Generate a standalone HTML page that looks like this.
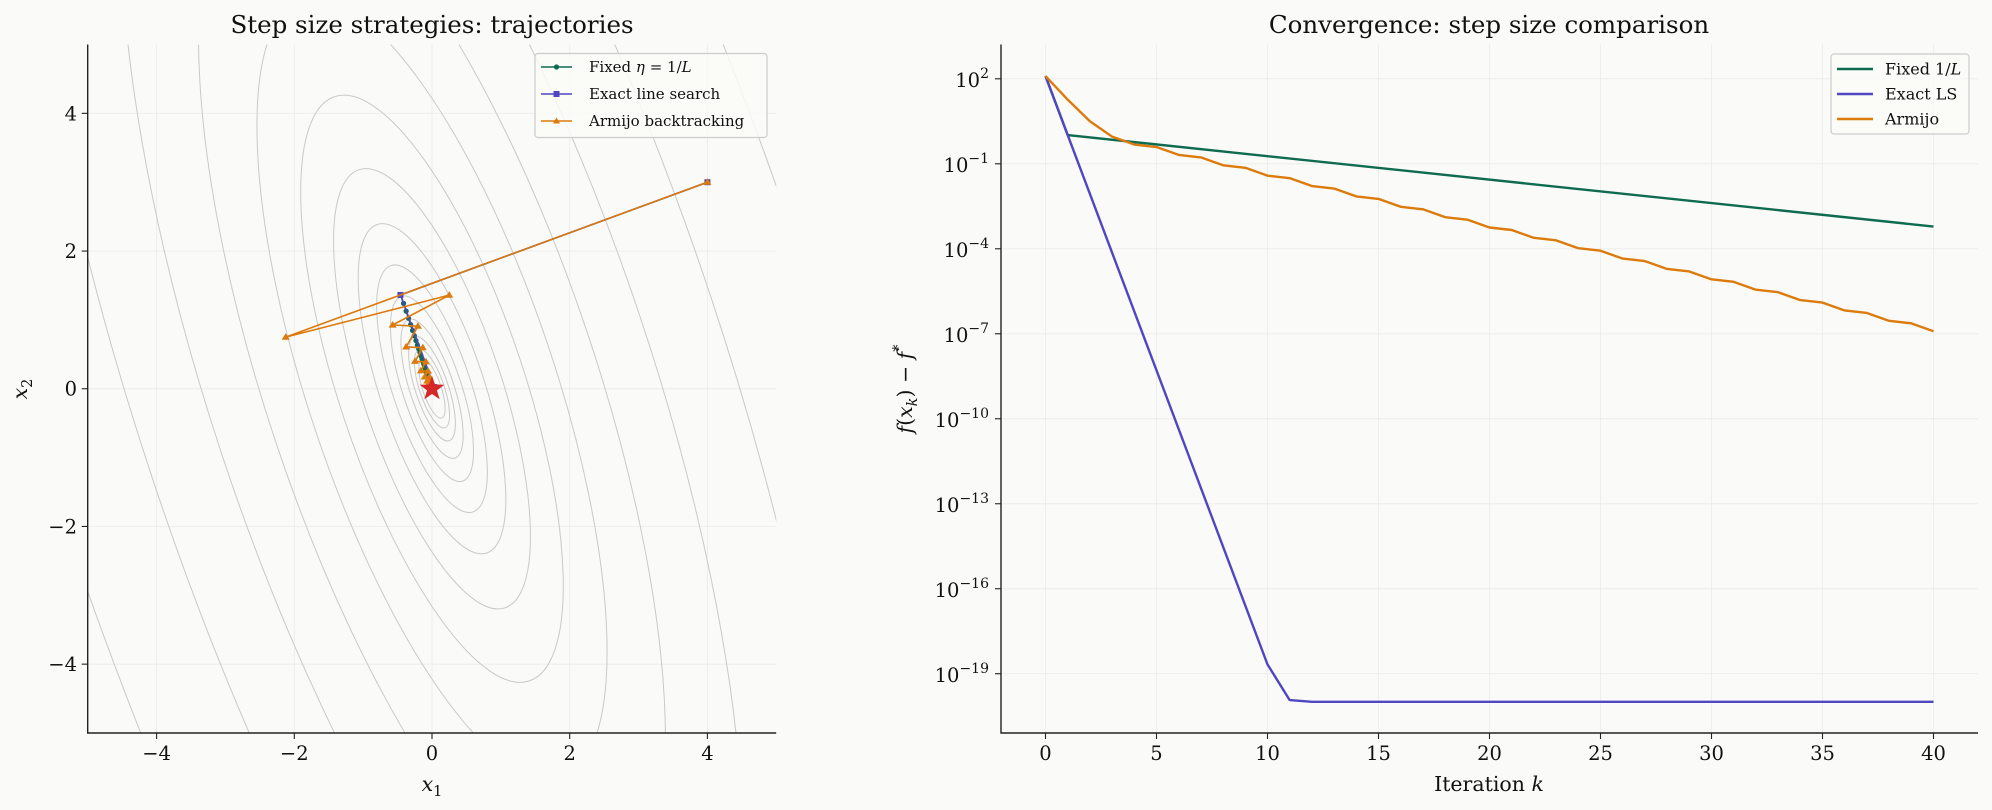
<!DOCTYPE html>
<html><head><meta charset="utf-8">
<style>
html,body{margin:0;padding:0;background:#fafaf8;width:1992px;height:810px;overflow:hidden;}
svg{display:block;font-family:"DejaVu Serif","Liberation Serif",serif;}
</style></head>
<body>
<svg width="1992" height="810" viewBox="0 0 1992 810" xmlns="http://www.w3.org/2000/svg">
<rect width="1992" height="810" fill="#fafaf8"/>
<defs>
<clipPath id="cl"><rect x="87.7" y="44.5" width="688.5" height="688.5"/></clipPath>
<clipPath id="cr"><rect x="1001" y="44.5" width="977" height="688.5"/></clipPath>
<marker id="mc" markerUnits="userSpaceOnUse" markerWidth="8" markerHeight="8" refX="4" refY="4" overflow="visible"><circle cx="4" cy="4" r="2.6" fill="#0e6b50"/></marker>
<marker id="ms" markerUnits="userSpaceOnUse" markerWidth="8" markerHeight="8" refX="4" refY="4" overflow="visible"><rect x="1" y="1" width="6" height="6" fill="#5046c0"/></marker>
<marker id="mt" markerUnits="userSpaceOnUse" markerWidth="10" markerHeight="10" refX="5" refY="5" overflow="visible"><path d="M5,1L9,7.6H1Z" fill="#dd7a0c"/></marker>
</defs>
<g stroke="#ececea" stroke-width="0.9">
<line x1="156.6" y1="44.5" x2="156.6" y2="733"/><line x1="294.3" y1="44.5" x2="294.3" y2="733"/><line x1="432" y1="44.5" x2="432" y2="733"/><line x1="569.7" y1="44.5" x2="569.7" y2="733"/><line x1="707.4" y1="44.5" x2="707.4" y2="733"/>
<line x1="87.7" y1="113.35" x2="776.2" y2="113.35"/><line x1="87.7" y1="251.05" x2="776.2" y2="251.05"/><line x1="87.7" y1="388.75" x2="776.2" y2="388.75"/><line x1="87.7" y1="526.45" x2="776.2" y2="526.45"/><line x1="87.7" y1="664.15" x2="776.2" y2="664.15"/>
<line x1="1045.5" y1="44.5" x2="1045.5" y2="733"/><line x1="1156.5" y1="44.5" x2="1156.5" y2="733"/><line x1="1267.5" y1="44.5" x2="1267.5" y2="733"/><line x1="1378.5" y1="44.5" x2="1378.5" y2="733"/><line x1="1489.5" y1="44.5" x2="1489.5" y2="733"/><line x1="1600.5" y1="44.5" x2="1600.5" y2="733"/><line x1="1711.5" y1="44.5" x2="1711.5" y2="733"/><line x1="1822.5" y1="44.5" x2="1822.5" y2="733"/><line x1="1933.5" y1="44.5" x2="1933.5" y2="733"/>
<line x1="1001" y1="78.8" x2="1978" y2="78.8"/><line x1="1001" y1="163.79" x2="1978" y2="163.79"/><line x1="1001" y1="248.78" x2="1978" y2="248.78"/><line x1="1001" y1="333.77" x2="1978" y2="333.77"/><line x1="1001" y1="418.76" x2="1978" y2="418.76"/><line x1="1001" y1="503.75" x2="1978" y2="503.75"/><line x1="1001" y1="588.74" x2="1978" y2="588.74"/><line x1="1001" y1="673.73" x2="1978" y2="673.73"/>
</g>
<g clip-path="url(#cl)" fill="none" stroke="#c9c9c7" stroke-width="1">
<g transform="rotate(71.57 432 388.75)">
<ellipse cx="432" cy="388.75" rx="30.79" ry="9.28"/>
<ellipse cx="432" cy="388.75" rx="41.06" ry="12.38"/>
<ellipse cx="432" cy="388.75" rx="54.75" ry="16.51"/>
<ellipse cx="432" cy="388.75" rx="73.02" ry="22.01"/>
<ellipse cx="432" cy="388.75" rx="97.37" ry="29.36"/>
<ellipse cx="432" cy="388.75" rx="129.84" ry="39.15"/>
<ellipse cx="432" cy="388.75" rx="173.15" ry="52.21"/>
<ellipse cx="432" cy="388.75" rx="230.9" ry="69.62"/>
<ellipse cx="432" cy="388.75" rx="307.91" ry="92.83"/>
<ellipse cx="432" cy="388.75" rx="410.6" ry="123.8"/>
<ellipse cx="432" cy="388.75" rx="547.54" ry="165.09"/>
<ellipse cx="432" cy="388.75" rx="730.17" ry="220.16"/>
<ellipse cx="432" cy="388.75" rx="973.7" ry="293.6"/>
<ellipse cx="432" cy="388.75" rx="1298.4" ry="391.5"/>
<ellipse cx="432" cy="388.75" rx="1731.5" ry="522.1"/>
</g>
</g>
<g clip-path="url(#cl)" fill="none" stroke-width="1.6" stroke-linejoin="round">
<path stroke="#0e6b50" marker-start="url(#mc)" marker-mid="url(#mc)" marker-end="url(#mc)" d="M707.4,182.2L400.7,294.86L403.55,303.4L406.14,311.15L408.49,318.21L410.63,324.62L412.57,330.45L414.33,335.75L415.94,340.57L417.4,344.95L418.73,348.94L419.93,352.55L421.03,355.85L422.03,358.83L422.94,361.56L423.76,364.03L424.51,366.28L425.19,368.32L425.81,370.17L426.37,371.86L426.88,373.4L427.35,374.8L427.77,376.07L428.15,377.21L428.51,378.27L428.82,379.22L429.11,380.08L429.6,381.5L430.2,383.3L430.8,385"/>
<path stroke="#5046c0" marker-start="url(#ms)" marker-mid="url(#ms)" marker-end="url(#ms)" d="M707.4,182.2L400.45,294.96L434.27,387.04L432,388.75"/>
<path stroke="#dd7a0c" marker-start="url(#mt)" marker-mid="url(#mt)" marker-end="url(#mt)" d="M707.4,182.2L285.69,337.11L449.21,295.16L392.6,325.01L417.95,326.17L406.14,346.92L422.78,347.68L415.04,361.31L425.95,361.81L420.87,370.75L428.03,371.08L424.7,376.94L429.4,377.16L427.21,381L430.29,381.14L428.85,383.66L430.88,383.76L429.93,385.41L431.26,385.47L430.64,386.56L431.52,386.6"/>
<path fill="#d62728" stroke="none" d="M432,375.75L435.06,384.54L444.36,384.73L436.95,390.36L439.64,399.27L432,393.95L424.36,399.27L427.05,390.36L419.64,384.73L428.94,384.54Z"/>
</g>
<g clip-path="url(#cr)" fill="none" stroke-width="2.4" stroke-linejoin="round">
<path stroke="#0e6b50" d="M1045.5,76.05L1067.7,135.06L1933.5,226.54"/>
<path stroke="#5046c0" d="M1045.5,76.05L1067.7,135.06L1267.5,664.4L1289.7,700.1L1311.9,701.8L1933.5,701.8"/>
<path stroke="#dd7a0c" d="M1045.5,76.05L1067.7,99.65L1089.9,121.24L1112.1,136.68L1134.3,144.55L1156.5,147.05L1178.7,154.92L1200.9,157.42L1223.1,165.29L1245.3,167.79L1267.5,175.66L1289.7,178.16L1311.9,186.03L1334.1,188.53L1356.3,196.4L1378.5,198.9L1400.7,206.77L1422.9,209.26L1445.1,217.13L1467.3,219.63L1489.5,227.5L1511.7,230L1533.9,237.87L1556.1,240.37L1578.3,248.24L1600.5,250.74L1622.7,258.61L1644.9,261.11L1667.1,268.98L1689.3,271.48L1711.5,279.35L1733.7,281.85L1755.9,289.72L1778.1,292.22L1800.3,300.09L1822.5,302.59L1844.7,310.46L1866.9,312.96L1889.1,320.83L1911.3,323.33L1933.5,331.2"/>
</g>
<g stroke="#222" stroke-width="1.1">
<line x1="156.6" y1="733" x2="156.6" y2="739"/><line x1="294.3" y1="733" x2="294.3" y2="739"/><line x1="432" y1="733" x2="432" y2="739"/><line x1="569.7" y1="733" x2="569.7" y2="739"/><line x1="707.4" y1="733" x2="707.4" y2="739"/>
<line x1="81.7" y1="113.35" x2="87.7" y2="113.35"/><line x1="81.7" y1="251.05" x2="87.7" y2="251.05"/><line x1="81.7" y1="388.75" x2="87.7" y2="388.75"/><line x1="81.7" y1="526.45" x2="87.7" y2="526.45"/><line x1="81.7" y1="664.15" x2="87.7" y2="664.15"/>
<line x1="1045.5" y1="733" x2="1045.5" y2="739"/><line x1="1156.5" y1="733" x2="1156.5" y2="739"/><line x1="1267.5" y1="733" x2="1267.5" y2="739"/><line x1="1378.5" y1="733" x2="1378.5" y2="739"/><line x1="1489.5" y1="733" x2="1489.5" y2="739"/><line x1="1600.5" y1="733" x2="1600.5" y2="739"/><line x1="1711.5" y1="733" x2="1711.5" y2="739"/><line x1="1822.5" y1="733" x2="1822.5" y2="739"/><line x1="1933.5" y1="733" x2="1933.5" y2="739"/>
<line x1="995" y1="78.8" x2="1001" y2="78.8"/><line x1="995" y1="163.79" x2="1001" y2="163.79"/><line x1="995" y1="248.78" x2="1001" y2="248.78"/><line x1="995" y1="333.77" x2="1001" y2="333.77"/><line x1="995" y1="418.76" x2="1001" y2="418.76"/><line x1="995" y1="503.75" x2="1001" y2="503.75"/><line x1="995" y1="588.74" x2="1001" y2="588.74"/><line x1="995" y1="673.73" x2="1001" y2="673.73"/>
</g>
<g stroke="#222" stroke-width="1.4" fill="none">
<path d="M87.7,44.5V733H776.2"/>
<path d="M1001,44.5V733H1978"/>
</g>
<text x="432" y="33" font-size="24.5" text-anchor="middle" fill="#111">Step size strategies: trajectories</text>
<text x="1489" y="33" font-size="24.5" text-anchor="middle" fill="#111">Convergence: step size comparison</text>
<g font-size="19.5" fill="#111" text-anchor="middle">
<text x="156.6" y="760">−4</text><text x="294.3" y="760">−2</text><text x="432" y="760">0</text><text x="569.7" y="760">2</text><text x="707.4" y="760">4</text>
</g>
<g font-size="19.5" fill="#111" text-anchor="end">
<text x="77" y="120.3">4</text><text x="77" y="258">2</text><text x="77" y="395.7">0</text><text x="77" y="533.4">−2</text><text x="77" y="671.1">−4</text>
</g>
<text x="432" y="791" font-size="20.5" text-anchor="middle" font-style="italic" fill="#111">x<tspan font-size="14.5" dy="5" font-style="normal">1</tspan></text>
<text transform="translate(27,389) rotate(-90)" font-size="20.5" text-anchor="middle" font-style="italic" fill="#111">x<tspan font-size="14.5" dy="5" font-style="normal">2</tspan></text>
<g font-size="19.5" fill="#111" text-anchor="middle">
<text x="1045.5" y="760">0</text><text x="1156.5" y="760">5</text><text x="1267.5" y="760">10</text><text x="1378.5" y="760">15</text><text x="1489.5" y="760">20</text><text x="1600.5" y="760">25</text><text x="1711.5" y="760">30</text><text x="1822.5" y="760">35</text><text x="1933.5" y="760">40</text>
</g>
<g font-size="19.5" fill="#111" text-anchor="end">
<text x="989" y="87">10<tspan font-size="14" dy="-9">2</tspan></text>
<text x="989" y="172">10<tspan font-size="14" dy="-9">−1</tspan></text>
<text x="989" y="257">10<tspan font-size="14" dy="-9">−4</tspan></text>
<text x="989" y="342">10<tspan font-size="14" dy="-9">−7</tspan></text>
<text x="989" y="427">10<tspan font-size="14" dy="-9">−10</tspan></text>
<text x="989" y="512">10<tspan font-size="14" dy="-9">−13</tspan></text>
<text x="989" y="597">10<tspan font-size="14" dy="-9">−16</tspan></text>
<text x="989" y="682">10<tspan font-size="14" dy="-9">−19</tspan></text>
</g>
<text x="1489" y="791" font-size="20.5" text-anchor="middle" fill="#111">Iteration <tspan font-style="italic">k</tspan></text>
<text transform="translate(912,389) rotate(-90)" font-size="20.5" text-anchor="middle" fill="#111"><tspan font-style="italic">f</tspan>(<tspan font-style="italic">x</tspan><tspan font-size="14.5" dy="5" font-style="italic">k</tspan><tspan dy="-5">) − </tspan><tspan font-style="italic">f</tspan><tspan font-size="14.5" dy="-9">*</tspan></text>
<rect x="535" y="53.5" width="232" height="84" rx="3" fill="#fafaf8" fill-opacity="0.85" stroke="#cccccc" stroke-width="1.2"/>
<g stroke-width="1.6">
<line x1="541" y1="67" x2="572" y2="67" stroke="#0e6b50"/><circle cx="556.5" cy="67" r="2.6" fill="#0e6b50"/>
<line x1="541" y1="94" x2="572" y2="94" stroke="#5046c0"/><rect x="553.5" y="91" width="6" height="6" fill="#5046c0"/>
<line x1="541" y1="121" x2="572" y2="121" stroke="#dd7a0c"/><path d="M556.5,117.5L560,123.5H553Z" fill="#dd7a0c"/>
</g>
<g font-size="15" fill="#111">
<text x="589" y="72">Fixed <tspan font-style="italic">η</tspan> = 1/<tspan font-style="italic">L</tspan></text>
<text x="589" y="99">Exact line search</text>
<text x="589" y="126">Armijo backtracking</text>
</g>
<rect x="1831" y="54" width="138" height="80" rx="3" fill="#fafaf8" fill-opacity="0.85" stroke="#cccccc" stroke-width="1.2"/>
<g stroke-width="2.4">
<line x1="1837" y1="69" x2="1873" y2="69" stroke="#0e6b50"/>
<line x1="1837" y1="94" x2="1873" y2="94" stroke="#5046c0"/>
<line x1="1837" y1="119" x2="1873" y2="119" stroke="#dd7a0c"/>
</g>
<g font-size="16" fill="#111">
<text x="1885" y="74.5">Fixed 1/<tspan font-style="italic">L</tspan></text>
<text x="1885" y="99.5">Exact LS</text>
<text x="1885" y="124.5">Armijo</text>
</g>
</svg>
</body></html>
